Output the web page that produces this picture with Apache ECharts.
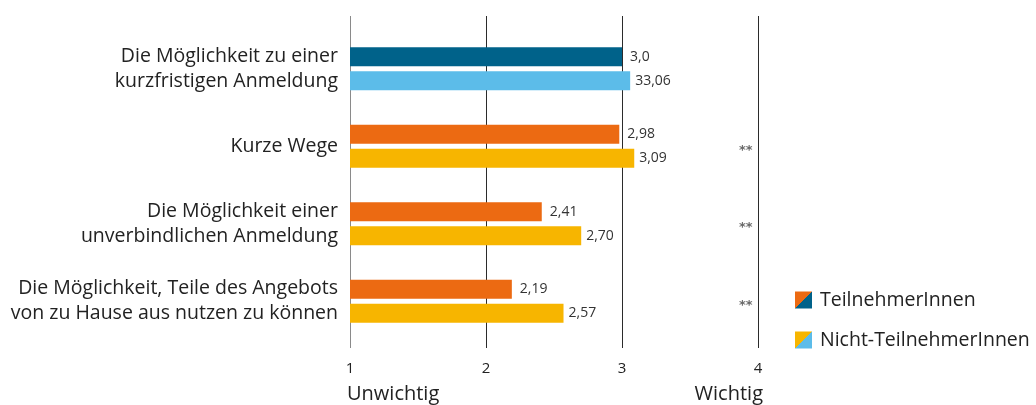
<!DOCTYPE html>
<html>
<head>
<meta charset="utf-8">
<script src="https://cdn.jsdelivr.net/npm/echarts@6/dist/echarts.min.js"></script>
<style>html,body{margin:0;padding:0;background:#fff}#c{width:1036px;height:405px}</style>
</head>
<body>
<div id="c"></div>
<script>
// ---- data ----
var categories = [
  "Die Möglichkeit zu einer\nkurzfristigen Anmeldung",
  "Kurze Wege",
  "Die Möglichkeit einer\nunverbindlichen Anmeldung",
  "Die Möglichkeit, Teile des Angebots\nvon zu Hause aus nutzen zu können"
];
var teilnehmerValues = [3.00, 2.98, 2.41, 2.19];
var teilnehmerLabels = ["3,0", "2,98", "2,41", "2,19"];
var nichtTeilnehmerValues = [3.06, 3.09, 2.70, 2.57];
var nichtTeilnehmerLabels = ["33,06", "3,09", "2,70", "2,57"];
var significance = ["", "**", "**", "**"];
var tickValues = [1, 2, 3, 4];
var scaleEndLabels = ["Unwichtig", "Wichtig"];
var seriesNames = ["TeilnehmerInnen", "Nicht-TeilnehmerInnen"];

// ---- styling ----
var FONT = "Open Sans";
var C_ORANGE = "#EC6A12", C_DARKBLUE = "#00628A", C_YELLOW = "#F7B500", C_LIGHTBLUE = "#5CBCE9";
var SIG_X = 3.91;

function split(a, b) {
  return new echarts.graphic.LinearGradient(0, 0, 1, 1, [
    {offset: 0, color: a}, {offset: 0.5, color: a},
    {offset: 0.5, color: b}, {offset: 1, color: b}
  ]);
}

var chart = echarts.init(document.getElementById('c'), null, {renderer: 'canvas'});

var tData = teilnehmerValues.map(function (v, i) {
  return {value: v, itemStyle: {color: i === 0 ? C_DARKBLUE : C_ORANGE}};
});
var nData = nichtTeilnehmerValues.map(function (v, i) {
  return {value: v, itemStyle: {color: i === 0 ? C_LIGHTBLUE : C_YELLOW}};
});

var option = {
  backgroundColor: '#fff',
  animation: false,
  textStyle: {fontFamily: FONT},
  grid: [
    {left: 350, right: 278, top: 16, bottom: 57},
    {left: 350, right: 278, top: 30, bottom: 65}
  ],
  xAxis: [
    {
      gridIndex: 0, type: 'value', min: tickValues[0], max: tickValues[tickValues.length - 1], interval: 1,
      axisLine: {show: false}, axisTick: {show: false},
      splitLine: {show: true, lineStyle: {color: ['#8a8a8a', '#2b2b2b', '#2b2b2b', '#2b2b2b'], width: 1}},
      axisLabel: {show: true, margin: 13, fontSize: 15, color: '#222', fontFamily: FONT,
        formatter: function (v) { return String(v); }}
    },
    {
      gridIndex: 1, type: 'value', min: tickValues[0], max: tickValues[tickValues.length - 1], interval: 1,
      show: false
    }
  ],
  yAxis: [
    {gridIndex: 0, type: 'category', data: categories, show: false, inverse: true},
    {
      gridIndex: 1, type: 'category', data: categories, inverse: true,
      axisLine: {show: false}, axisTick: {show: false}, splitLine: {show: false},
      axisLabel: {margin: 12, fontSize: 19.5, lineHeight: 25, color: '#222', fontFamily: FONT, align: 'right'}
    }
  ],
  legend: {
    orient: 'vertical', left: 795, top: 290, padding: 0, itemWidth: 17, itemHeight: 17, itemGap: 20,
    textStyle: {fontSize: 19.5, color: '#222', fontFamily: FONT, padding: [0, 0, 0, 3]},
    data: [
      {name: seriesNames[0], icon: 'rect', itemStyle: {color: split(C_ORANGE, C_DARKBLUE)}},
      {name: seriesNames[1], icon: 'rect', itemStyle: {color: split(C_YELLOW, C_LIGHTBLUE)}}
    ]
  },
  series: [
    {
      name: seriesNames[0], type: 'bar', xAxisIndex: 1, yAxisIndex: 1, data: tData,
      barWidth: 19, barGap: '26%',
      label: {show: true, position: 'right', distance: 8, fontSize: 14, color: '#333', fontFamily: FONT,
        formatter: function (p) { return teilnehmerLabels[p.dataIndex]; }}
    },
    {
      name: seriesNames[1], type: 'bar', xAxisIndex: 1, yAxisIndex: 1, data: nData,
      barWidth: 19, barGap: '26%',
      label: {show: true, position: 'right', distance: 5, fontSize: 14, color: '#333', fontFamily: FONT,
        formatter: function (p) { return nichtTeilnehmerLabels[p.dataIndex]; }}
    },
    {
      name: 'sig', type: 'scatter', xAxisIndex: 1, yAxisIndex: 1, symbolSize: 0, silent: true,
      data: significance.map(function (s, i) { return [SIG_X, i]; }),
      label: {show: true, position: 'inside', offset: [0, 4], fontSize: 13, fontWeight: 'bold', color: '#444', fontFamily: 'DejaVu Sans',
        formatter: function (p) { return significance[p.dataIndex]; }}
    }
  ],
  graphic: [
    {type: 'text', left: 347, top: 384, style: {text: scaleEndLabels[0], font: '20px "' + FONT + '"', fill: '#222'}},
    {type: 'text', right: 1036 - 763, top: 384, style: {text: scaleEndLabels[1], font: '20px "' + FONT + '"', fill: '#222'}}
  ]
};
chart.setOption(option);
</script>
</body>
</html>
